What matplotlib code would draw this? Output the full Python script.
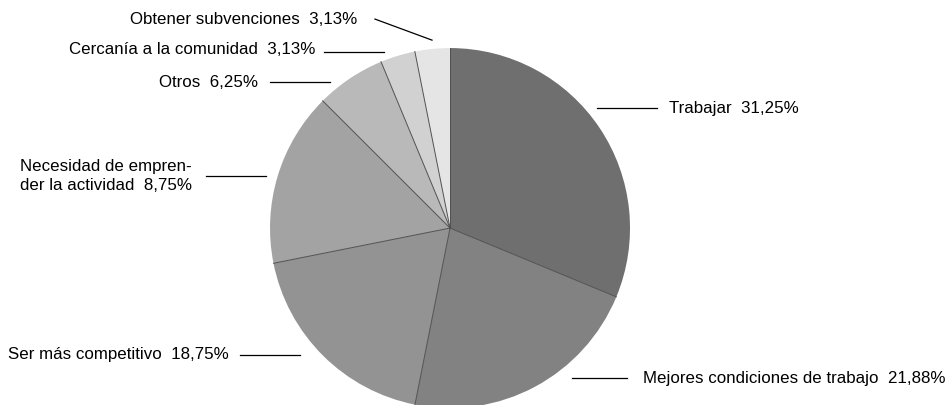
import numpy as np
import matplotlib
matplotlib.use('Agg')
import matplotlib.pyplot as plt
from matplotlib.patches import Wedge

# slice sizes as drawn, and the labels printed next to them
categories = ['Trabajar', 'Mejores condiciones de trabajo', 'Ser más competitivo',
              'Necesidad de empren-\nder la actividad', 'Otros',
              'Cercanía a la comunidad', 'Obtener subvenciones']
values = [31.25, 21.88, 18.75, 15.63, 6.25, 3.13, 3.13]
pct_labels = ['31,25%', '21,88%', '18,75%', '8,75%', '6,25%', '3,13%', '3,13%']
colors = ['#6f6f6f', '#828282', '#939393', '#a3a3a3', '#b9b9b9', '#d1d1d1', '#e5e5e5']

plt.rcParams['font.family'] = ['Liberation Sans Narrow', 'Liberation Sans', 'DejaVu Sans']

fig = plt.figure(figsize=(9.49, 4.05), dpi=100)
ax = fig.add_axes([0, 0, 1, 1])
ax.set_xlim(-2.5, 2.772)
ax.set_ylim(-0.983, 1.267)
ax.set_aspect('equal')
ax.axis('off')

# wedges clockwise from 12 o'clock
total = sum(values)
start = 90.0
bounds = [start]
for v, c in zip(values, colors):
    sweep = 360.0 * v / total
    ax.add_patch(Wedge((0, 0), 1.0, start - sweep, start, facecolor=c, edgecolor='none'))
    start -= sweep
    bounds.append(start)

# thin separators between slices
for a in bounds[:-1]:
    r = np.deg2rad(a)
    ax.plot([0, np.cos(r)], [0, np.sin(r)], color='#505050', lw=0.7)

# label layout: (text x, text y, ha, leader line x0, y0, x1, y1)
layout = [
    (1.217, 0.667, 'left', 0.817, 0.667, 1.15, 0.667),
    (1.072, -0.833, 'left', 0.678, -0.833, 0.983, -0.833),
    (-1.228, -0.700, 'right', -1.167, -0.706, -0.833, -0.706),
    (-2.389, 0.289, 'left', -1.356, 0.289, -1.022, 0.289),
    (-1.067, 0.811, 'right', -1.0, 0.811, -0.667, 0.811),
    (-0.75, 0.994, 'right', -0.7, 0.978, -0.367, 0.978),
    (-0.517, 1.161, 'right', -0.417, 1.161, -0.1, 1.044),
]

for name, pct, (tx, ty, ha, x0, y0, x1, y1) in zip(categories, pct_labels, layout):
    txt = name + '  ' + pct
    ax.text(tx, ty, txt, ha=ha, va='center', fontsize=12.2, color='black',
            linespacing=1.4)
    ax.plot([x0, x1], [y0, y1], color='black', lw=0.9)

fig.savefig('out.png', dpi=100)
